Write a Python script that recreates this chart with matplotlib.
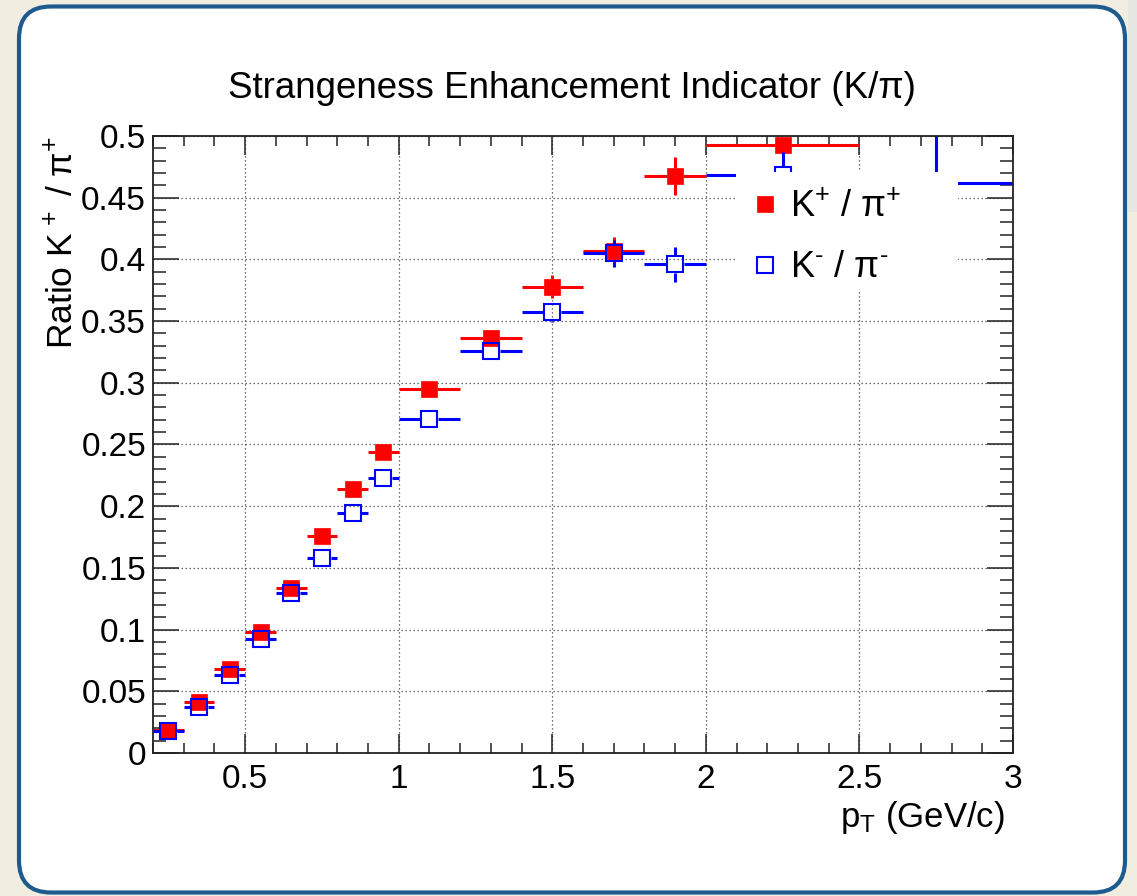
import numpy as np
import matplotlib
matplotlib.use("Agg")
import matplotlib.pyplot as plt
from matplotlib.collections import LineCollection
from matplotlib.patches import FancyBboxPatch, Rectangle
from matplotlib.lines import Line2D
from matplotlib.ticker import MultipleLocator, FuncFormatter

plt.rcParams['font.family'] = ['Liberation Sans', 'DejaVu Sans']
plt.rcParams['mathtext.fontset'] = 'custom'
plt.rcParams['mathtext.rm'] = 'Liberation Sans'
plt.rcParams['mathtext.it'] = 'Liberation Sans'
plt.rcParams['mathtext.default'] = 'regular'

# ---------------- data ----------------
pt_kp = [0.25, 0.35, 0.45, 0.55, 0.65, 0.75, 0.85, 0.95, 1.1, 1.3, 1.5, 1.7, 1.9, 2.25]
pt_kp_err = [0.05, 0.05, 0.05, 0.05, 0.05, 0.05, 0.05, 0.05, 0.1, 0.1, 0.1, 0.1, 0.1, 0.25]
ratio_kp = [0.0190, 0.0410, 0.0678, 0.0980, 0.1337, 0.1758, 0.2140, 0.2442, 0.2947,
            0.3365, 0.3780, 0.4068, 0.4676, 0.4927]
ratio_kp_err = [0.001, 0.0015, 0.002, 0.002, 0.003, 0.003, 0.004, 0.004, 0.005,
                0.006, 0.009, 0.011, 0.0155, 0.006]

pt_km = [0.25, 0.35, 0.45, 0.55, 0.65, 0.75, 0.85, 0.95, 1.1, 1.3, 1.5, 1.7, 1.9, 2.25, 2.75]
pt_km_err = [0.05, 0.05, 0.05, 0.05, 0.05, 0.05, 0.05, 0.05, 0.1, 0.1, 0.1, 0.1, 0.1, 0.25, 0.25]
ratio_km = [0.0178, 0.0375, 0.0635, 0.0924, 0.1297, 0.1580, 0.1947, 0.2231, 0.2709,
            0.3260, 0.3570, 0.4050, 0.3960, 0.4680, 0.4620]
ratio_km_err = [0.001, 0.0015, 0.002, 0.002, 0.003, 0.003, 0.004, 0.004, 0.005,
                0.006, 0.008, 0.011, 0.014, 0.019, 0.05]

title = "Strangeness Enhancement Indicator (K/π)"
xlabel = r"p$_{T}$ (GeV/c)"
ylabel = r"Ratio K$^{\,+}$ / π$^{+}$"
label_kp = r"K$^{+}$ / π$^{+}$"
label_km = r"K$^{\text{-}}$ / π$^{\text{-}}$"

RED = "#ff0000"
BLUE = "#0000ff"

# ---------------- figure ----------------
W, H, DPI = 1137, 896, 100
fig = plt.figure(figsize=(W / DPI, H / DPI), dpi=DPI)
fig.patch.set_facecolor("#f1eee1")

# light strip at top right
fig.add_artist(Rectangle((1128 / W, 1 - 212 / H), 9 / W, 212 / H, transform=fig.transFigure,
                         facecolor="#e6e6e2", edgecolor="none", zorder=0))
# rounded canvas frame
frame = FancyBboxPatch((0.19, 0.035), 11.06, 8.86,
                       boxstyle="round,pad=0,rounding_size=0.32",
                       transform=fig.dpi_scale_trans, facecolor="white",
                       edgecolor="#1d5a8e", linewidth=3.0, zorder=0)
fig.add_artist(frame)

ax_l, ax_r, ax_t, ax_b = 153, 1013, 136, 753
ax = fig.add_axes([ax_l / W, 1 - ax_b / H, (ax_r - ax_l) / W, (ax_b - ax_t) / H])
ax.set_facecolor("none")
ax.set_xlim(0.2, 3.0)
ax.set_ylim(0.0, 0.5)

for s in ax.spines.values():
    s.set_linewidth(1.3)
    s.set_color("#222222")

ax.xaxis.set_major_locator(MultipleLocator(0.5))
ax.xaxis.set_minor_locator(MultipleLocator(0.1))
ax.yaxis.set_major_locator(MultipleLocator(0.05))
ax.yaxis.set_minor_locator(MultipleLocator(0.01))
fmt = FuncFormatter(lambda v, p: "%g" % round(v, 4))
ax.xaxis.set_major_formatter(fmt)
ax.yaxis.set_major_formatter(fmt)

ax.tick_params(axis="both", which="both", direction="in", top=True, right=True,
               width=1.1, color="#222222", labelsize=24)
ax.tick_params(axis="x", which="major", length=13.5, pad=8)
ax.tick_params(axis="x", which="minor", length=7)
ax.tick_params(axis="y", which="major", length=19, pad=5)
ax.tick_params(axis="y", which="minor", length=9.5)

ax.grid(True, which="major", linestyle=(0, (1, 2.2)), linewidth=0.9, color="#444444")
ax.set_axisbelow(True)

# ---------------- data drawing (ROOT-like error bars with gaps at markers) ----------------
MS = 11.5  # marker size, points
ms_px = MS * DPI / 72.0
x0, y0 = ax.transData.transform((0, 0))
x1, y1 = ax.transData.transform((1, 1))
sx, sy = x1 - x0, y1 - y0


def draw_series(x, xe, y, ye, color, filled, z, gap_extra=0.0):
    hx = (ms_px / 2 + gap_extra) / sx
    hy = (ms_px / 2 + gap_extra) / sy
    segs = []
    for xi, xei, yi, yei in zip(x, xe, y, ye):
        if xei > hx:
            segs.append([(xi - xei, yi), (xi - hx, yi)])
            segs.append([(xi + hx, yi), (xi + xei, yi)])
        if yei > hy:
            segs.append([(xi, yi - yei), (xi, yi - hy)])
            segs.append([(xi, yi + hy), (xi, yi + yei)])
    lc = LineCollection(segs, colors=color, linewidths=2.2, zorder=z, capstyle="butt")
    ax.add_collection(lc)
    if filled:
        ax.plot(x, y, ls="none", marker="s", ms=MS, mfc=color, mec=color, mew=0.5, zorder=z + 0.1)
    else:
        ax.plot(x, y, ls="none", marker="s", ms=MS, mfc="none", mec=color, mew=1.5, zorder=z + 0.1)


draw_series(pt_kp, pt_kp_err, ratio_kp, ratio_kp_err, RED, True, 2.0)
draw_series(pt_km, pt_km_err, ratio_km, ratio_km_err, BLUE, False, 2.4, gap_extra=0.75)

# ---------------- legend ----------------
lx0, lx1, ly0, ly1 = 736, 958, 172, 292
ax.add_patch(Rectangle(((lx0 - ax_l) / (ax_r - ax_l), (ax_b - ly1) / (ax_b - ax_t)),
                       (lx1 - lx0) / (ax_r - ax_l), (ly1 - ly0) / (ax_b - ax_t),
                       transform=ax.transAxes, facecolor="white", edgecolor="none",
                       zorder=5, clip_on=False))
h1 = Line2D([], [], ls="none", marker="s", ms=MS, mfc=RED, mec=RED, mew=0.5)
h2 = Line2D([], [], ls="none", marker="s", ms=MS, mfc="none", mec=BLUE, mew=1.5)
leg = ax.legend([h1, h2], [label_kp, label_km], loc="upper left",
                bbox_to_anchor=((751 - ax_l) / (ax_r - ax_l), (ax_b - 190) / (ax_b - ax_t)),
                frameon=False, fontsize=26, handlelength=0.8, handletextpad=0.29,
                labelspacing=0.7, borderpad=0.0, borderaxespad=0.0)
leg.set_zorder(6)

# ---------------- labels ----------------
fig.text(572 / W, 1 - 98 / H, title, ha="center", va="baseline", fontsize=26.5)
ax.set_xlabel(xlabel, fontsize=25, loc="right", labelpad=3)
ax.xaxis.label.set_x((1005 - ax_l) / (ax_r - ax_l))
ax.set_ylabel(ylabel, fontsize=25.5, loc="top", labelpad=1)

fig.savefig("out.png", dpi=DPI, facecolor=fig.get_facecolor())
